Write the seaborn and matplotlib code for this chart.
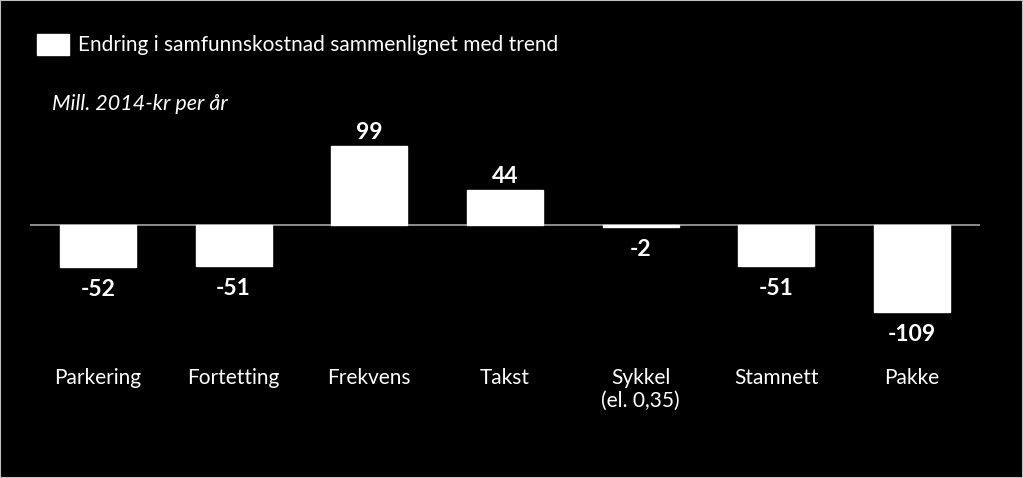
import matplotlib
matplotlib.use("Agg")
import matplotlib.pyplot as plt
import seaborn as sns
import pandas as pd

# data
categories = ["Parkering", "Fortetting", "Frekvens", "Takst", "Sykkel\n(el. 0,35)", "Stamnett", "Pakke"]
values = [-52, -51, 99, 44, -2, -51, -109]
series_name = "Endring i samfunnskostnad sammenlignet med trend"
unit_note = "Mill. 2014-kr per år"

sns.set_theme(style="white")
plt.rcParams["font.family"] = ["Lato", "DejaVu Sans"]

df = pd.DataFrame({"kategori": categories, "verdi": values})

fig = plt.figure(figsize=(10.23, 4.78), dpi=100, facecolor="black")
ax = fig.add_axes([30 / 1023, 141 / 478, 950 / 1023, 208 / 478])
ax.set_facecolor("black")

sns.barplot(data=df, x="kategori", y="verdi", color="white", width=0.56,
            saturation=1, label=series_name, ax=ax)
if ax.get_legend() is not None:
    ax.get_legend().remove()

ax.set_xlim(-0.5, 6.5)
ax.set_ylim(-140, 120)
ax.axhline(0, color="#a6a6a6", lw=1.2, zorder=0)

for i, v in enumerate(values):
    off = 4 if v > 0 else -15
    ax.text(i, v + off, f"{v}", ha="center", va="bottom" if v > 0 else "top",
            color="white", fontsize=16.5, fontweight="bold", clip_on=False)

ax.set_yticks([])
ax.tick_params(axis="x", length=0, pad=0, labelsize=15, labelcolor="white")
ax.set_xticks(range(len(categories)))
ax.set_xticklabels(categories, va="top", linespacing=1.15)
for lab in ax.get_xticklabels():
    lab.set_y(-0.15)
ax.set_xlabel("")
ax.set_ylabel("")
for s in ax.spines.values():
    s.set_visible(False)

leg = fig.legend(loc="upper left", bbox_to_anchor=(37 / 1023, 1 - 34 / 478),
                 frameon=False, fontsize=15, labelcolor="white",
                 handlelength=1.55, handleheight=1.15, handletextpad=0.4,
                 borderaxespad=0, borderpad=0)

fig.text(52 / 1023, 1 - 104 / 478, unit_note, color="white", fontsize=15.5,
         style="italic", va="center", ha="left")

# thin grey frame round the picture
fig.patches.append(plt.Rectangle((0, 0), 1, 1, transform=fig.transFigure,
                                 fill=False, edgecolor="#bfbfbf", lw=1.5))

fig.savefig("out.png", dpi=100, facecolor="black")
